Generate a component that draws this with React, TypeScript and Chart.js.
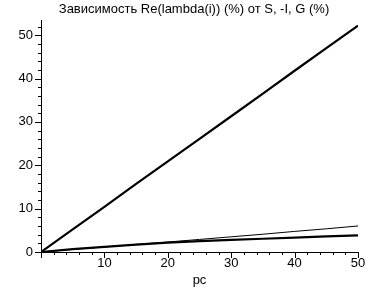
import React, { useEffect, useRef } from "react";
import { Chart, registerables } from "chart.js";

Chart.register(...registerables);

const titleText = "Зависимость Re(lambda(i)) (%) от S, -I, G (%)";
const xLabel = "pc";
const xValues = [0, 5, 10, 15, 20, 25, 30, 35, 40, 45, 50];
const seriesS = [0, 5.2, 10.4, 15.7, 20.9, 26.1, 31.3, 36.5, 41.8, 47.0, 52.2];
const seriesG = [0, 0.6, 1.15, 1.75, 2.3, 2.9, 3.5, 4.1, 4.75, 5.35, 6.0];
const seriesI = [0, 0.65, 1.2, 1.7, 2.15, 2.5, 2.8, 3.05, 3.3, 3.6, 3.85];
const xTickValues = [0, 10, 20, 30, 40, 50];
const yTickValues = [0, 10, 20, 30, 40, 50];
const yMax = 53.5;

const FONT = "'Liberation Sans', Arial, sans-serif";

const tickPlugin = {
  id: "mapleTicks",
  afterDraw(chart: any) {
    const ctx = chart.ctx;
    const xs = chart.scales.x;
    const ys = chart.scales.y;
    const area = chart.chartArea;
    ctx.save();
    ctx.strokeStyle = "#000";
    ctx.lineWidth = 1;
    ctx.beginPath();
    for (let v = 0; v <= 50; v += 2) {
      const px = Math.round(xs.getPixelForValue(v)) + 0.5;
      const len = v % 10 === 0 ? 6 : 3;
      ctx.moveTo(px, area.bottom);
      ctx.lineTo(px, area.bottom + len);
    }
    for (let v = 0; v <= yMax; v += 2) {
      const py = Math.round(ys.getPixelForValue(v)) + 0.5;
      const len = v % 10 === 0 ? 6 : 3;
      ctx.moveTo(area.left, py);
      ctx.lineTo(area.left - len, py);
    }
    ctx.stroke();
    ctx.restore();
  },
};

export default function App() {
  const ref = useRef<HTMLCanvasElement | null>(null);
  useEffect(() => {
    if (!ref.current) return;
    const mk = (label: string, data: number[], w: number) => ({
      label,
      data: xValues.map((x, i) => ({ x, y: data[i] })),
      borderColor: "#000",
      backgroundColor: "#000",
      borderWidth: w,
      pointRadius: 0,
      fill: false,
      tension: 0,
    });
    const chart = new Chart(ref.current, {
      type: "line",
      data: {
        datasets: [
          mk("S", seriesS, 2.2),
          mk("G", seriesG, 1),
          mk("-I", seriesI, 2.2),
        ],
      },
      plugins: [tickPlugin],
      options: {
        responsive: false,
        animation: false,
        devicePixelRatio: 1,
        layout: { padding: 0 },
        plugins: {
          legend: { display: false },
          tooltip: { enabled: false },
          title: {
            display: true,
            text: titleText,
            color: "#000",
            font: { family: FONT, size: 13, weight: "normal" },
            padding: { top: 2, bottom: 2.4 },
          },
        },
        scales: {
          x: {
            type: "linear",
            min: 0,
            max: 50,
            afterFit: (s: any) => {
              s.height = 36;
              s.paddingRight = 30;
              s.paddingLeft = 0;
            },
            afterBuildTicks: (s: any) => {
              s.ticks = xTickValues.map((v) => ({ value: v }));
            },
            ticks: {
              color: "#000",
              font: { family: FONT, size: 13 },
              padding: 4,
              maxRotation: 0,
              autoSkip: false,
              callback: (v: any) => (v === 0 ? "" : String(v)),
            },
            grid: { display: false, drawTicks: false },
            border: { display: true, color: "#000", width: 1 },
            title: {
              display: true,
              text: xLabel,
              color: "#000",
              font: { family: FONT, size: 13 },
              padding: { top: 0, bottom: 0 },
            },
          },
          y: {
            type: "linear",
            min: 0,
            max: yMax,
            afterFit: (s: any) => {
              s.width = 41;
            },
            afterBuildTicks: (s: any) => {
              s.ticks = yTickValues.map((v) => ({ value: v }));
            },
            ticks: {
              color: "#000",
              font: { family: FONT, size: 13 },
              padding: 8,
              autoSkip: false,
              callback: (v: any) => String(v),
            },
            grid: { display: false, drawTicks: false },
            border: { display: true, color: "#000", width: 1 },
          },
        },
      },
    } as any);
    return () => chart.destroy();
  }, []);
  return (
    <div style={{ position: "absolute", left: 0, top: 0, width: 388, height: 288, background: "#fff" }}>
      <canvas ref={ref} width={388} height={288} style={{ display: "block" }} />
    </div>
  );
}
